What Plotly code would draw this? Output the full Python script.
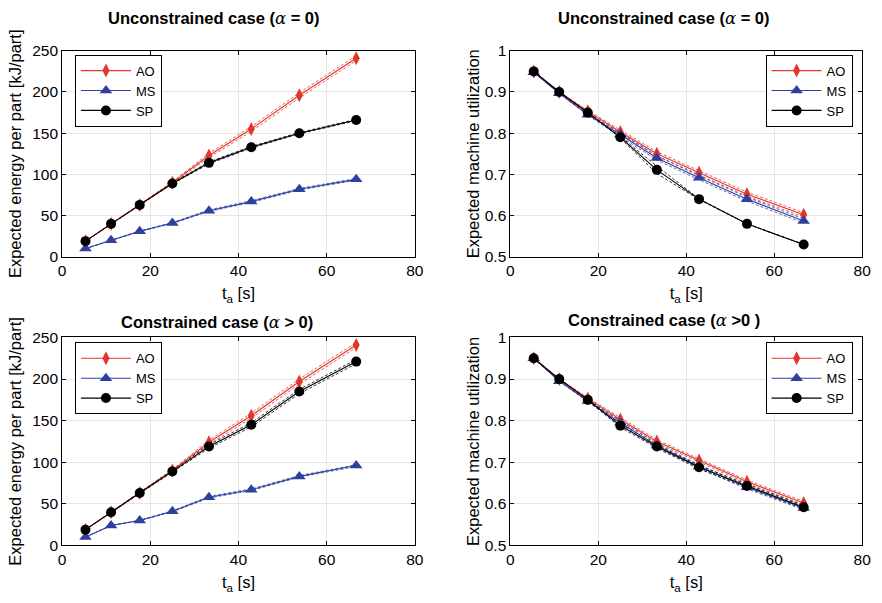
import plotly.graph_objects as go

# Inter-arrival time t_a [s]
t_a = [5.3, 11.1, 17.6, 25.0, 33.3, 42.9, 53.8, 66.7]

# Expected energy per part [kJ/part], unconstrained case (alpha = 0)
energy_unc_ao = [19, 40, 63, 90, 123, 155, 196, 241]
energy_unc_ms = [10, 20, 31, 41, 56, 67, 82, 94]
energy_unc_sp = [19, 40, 63, 89, 114, 133, 150, 166]
energy_unc_ao_ci = [0, 0, 0.5, 1, 2.5, 3, 3, 3]
energy_unc_ms_ci = [0, 0, 0.3, 0.5, 1, 1, 1, 1]
energy_unc_sp_ci = [0, 0, 0, 0.5, 1.2, 1, 0.8, 0.8]

# Expected machine utilization, unconstrained case
util_unc_ao = [0.950, 0.900, 0.853, 0.803, 0.750, 0.704, 0.652, 0.602]
util_unc_ms = [0.948, 0.897, 0.845, 0.797, 0.740, 0.692, 0.640, 0.587]
util_unc_sp = [0.950, 0.900, 0.850, 0.790, 0.711, 0.640, 0.580, 0.530]
util_unc_ao_ci = [0, 0, 0.002, 0.004, 0.005, 0.005, 0.005, 0.005]
util_unc_ms_ci = [0, 0, 0.002, 0.004, 0.005, 0.005, 0.005, 0.005]
util_unc_sp_ci = [0, 0, 0, 0.002, 0.009, 0.001, 0, 0]

# Expected energy per part [kJ/part], constrained case (alpha > 0)
energy_con_ao = [19, 40, 63, 90, 124, 156, 197, 241]
energy_con_ms = [10, 24, 30, 41, 58, 67, 83, 96]
energy_con_sp = [19, 40, 63, 89, 119, 145, 185, 221]
energy_con_ao_ci = [0, 0, 0.5, 1, 2.5, 3, 3, 3]
energy_con_ms_ci = [0, 0, 0.3, 0.5, 1, 1, 1, 1]
energy_con_sp_ci = [0, 0, 0.3, 1, 2, 2.5, 2.5, 2.5]

# Expected machine utilization, constrained case
util_con_ao = [0.950, 0.900, 0.853, 0.803, 0.750, 0.704, 0.653, 0.602]
util_con_ms = [0.950, 0.895, 0.847, 0.795, 0.740, 0.690, 0.640, 0.590]
util_con_sp = [0.950, 0.900, 0.850, 0.788, 0.738, 0.688, 0.643, 0.592]
util_con_ao_ci = [0, 0, 0.002, 0.004, 0.004, 0.004, 0.004, 0.004]
util_con_ms_ci = [0, 0, 0.002, 0.004, 0.004, 0.004, 0.004, 0.004]
util_con_sp_ci = [0, 0, 0.002, 0.004, 0.004, 0.004, 0.004, 0.004]

RED = "#e3362b"
BLUE = "#2f3fa0"
BLACK = "#000000"
FONT = "Liberation Sans, Arial, Helvetica, sans-serif"

series_style = {
    "AO": dict(color=RED, symbol="diamond-tall", size=10),
    "MS": dict(color=BLUE, symbol="triangle-up", size=11),
    "SP": dict(color=BLACK, symbol="circle", size=10),
}

panels = [
    dict(ax="", legend="legend",
         data={"AO": (energy_unc_ao, energy_unc_ao_ci),
               "MS": (energy_unc_ms, energy_unc_ms_ci),
               "SP": (energy_unc_sp, energy_unc_sp_ci)}),
    dict(ax="2", legend="legend2",
         data={"AO": (util_unc_ao, util_unc_ao_ci),
               "MS": (util_unc_ms, util_unc_ms_ci),
               "SP": (util_unc_sp, util_unc_sp_ci)}),
    dict(ax="3", legend="legend3",
         data={"AO": (energy_con_ao, energy_con_ao_ci),
               "MS": (energy_con_ms, energy_con_ms_ci),
               "SP": (energy_con_sp, energy_con_sp_ci)}),
    dict(ax="4", legend="legend4",
         data={"AO": (util_con_ao, util_con_ao_ci),
               "MS": (util_con_ms, util_con_ms_ci),
               "SP": (util_con_sp, util_con_sp_ci)}),
]

fig = go.Figure()

for p in panels:
    xa, ya = "x" + p["ax"], "y" + p["ax"]
    # dashed confidence bounds first, under the mean curves
    for name, (mean, ci) in p["data"].items():
        st = series_style[name]
        for sign in (-1, 1):
            fig.add_trace(go.Scatter(
                x=t_a, y=[m + sign * c for m, c in zip(mean, ci)],
                mode="lines", xaxis=xa, yaxis=ya, showlegend=False,
                line=dict(color=st["color"], width=0.8, dash="3px,2px"),
                hoverinfo="skip"))
    for name, (mean, ci) in p["data"].items():
        st = series_style[name]
        fig.add_trace(go.Scatter(
            x=t_a, y=mean, name=name, mode="lines+markers",
            xaxis=xa, yaxis=ya, legend=p["legend"],
            line=dict(color=st["color"], width=1.1),
            marker=dict(color=st["color"], symbol=st["symbol"], size=st["size"],
                        line=dict(width=0))))

W, H = 882, 603
xdom_l = [59 / W, 417 / W]
xdom_r = [514 / W, 871 / W]
ydom_t = [1 - 255 / H, 1 - 43 / H]
ydom_b = [1 - 552 / H, 1 - 338 / H]

axis_common = dict(
    showline=True, linecolor="black", linewidth=1, mirror="ticks",
    ticks="inside", ticklen=4, tickcolor="black", tickwidth=1,
    showgrid=True, gridcolor="#e6e6e6", gridwidth=1, zeroline=False,
    tickfont=dict(family=FONT, size=15.5, color="black"),
)
xt = dict(text="t<sub>a</sub> [s]", font=dict(family=FONT, size=16.5, color="black"), standoff=9)

def xaxis(dom, anchor):
    return dict(axis_common, domain=dom, anchor=anchor, range=[0, 80], dtick=20, title=xt)

def yaxis(dom, anchor, rng, dt, title, standoff):
    return dict(axis_common, domain=dom, anchor=anchor, range=rng, dtick=dt,
                title=dict(text=title, font=dict(family=FONT, size=16.5, color="black"),
                           standoff=standoff))

E_TITLE = "Expected energy per part [kJ/part]"
U_TITLE = "Expected machine utilization"

legend_common = dict(
    bgcolor="white", bordercolor="black", borderwidth=1,
    font=dict(family=FONT, size=13, color="black"),
    itemwidth=50, tracegroupgap=0, xanchor="left", yanchor="top",
)

fig.update_layout(
    width=W, height=H, margin=dict(l=0, r=0, t=0, b=0),
    paper_bgcolor="white", plot_bgcolor="white",
    font=dict(family=FONT, color="black"),
    xaxis=xaxis(xdom_l, "y"),
    yaxis=yaxis(ydom_t, "x", [0, 250], 50, E_TITLE, 6),
    xaxis2=xaxis(xdom_r, "y2"),
    yaxis2=yaxis(ydom_t, "x2", [0.5, 1], 0.1, U_TITLE, 0),
    xaxis3=xaxis(xdom_l, "y3"),
    yaxis3=yaxis(ydom_b, "x3", [0, 250], 50, E_TITLE, 6),
    xaxis4=xaxis(xdom_r, "y4"),
    yaxis4=yaxis(ydom_b, "x4", [0.5, 1], 0.1, U_TITLE, 0),
    legend=dict(legend_common, x=72 / W, y=1 - 47 / H),
    legend2=dict(legend_common, x=773 / W, y=1 - 47 / H),
    legend3=dict(legend_common, x=72 / W, y=1 - 343 / H),
    legend4=dict(legend_common, x=773 / W, y=1 - 343 / H),
    showlegend=True,
)

ALPHA = '<span style="font-family:\'DejaVu Serif\', serif;font-style:italic;font-weight:normal">α</span>'
titles = [
    (213, 10, f"<b>Unconstrained case ({ALPHA} = 0)</b>"),
    (670, 10, f"<b>Unconstrained case ({ALPHA} = 0)</b>"),
    (216, 323, f"<b>Constrained case ({ALPHA} > 0)</b>"),
    (670, 321, f"<b>Constrained case ({ALPHA} >0 )</b>"),
]
for x, y, txt in titles:
    fig.add_annotation(x=x / W, y=1 - y / H, xref="paper", yref="paper",
                       text=txt, showarrow=False, xanchor="center", yanchor="middle",
                       font=dict(family=FONT, size=16.5, color="black"))

fig.write_html("out.html")
